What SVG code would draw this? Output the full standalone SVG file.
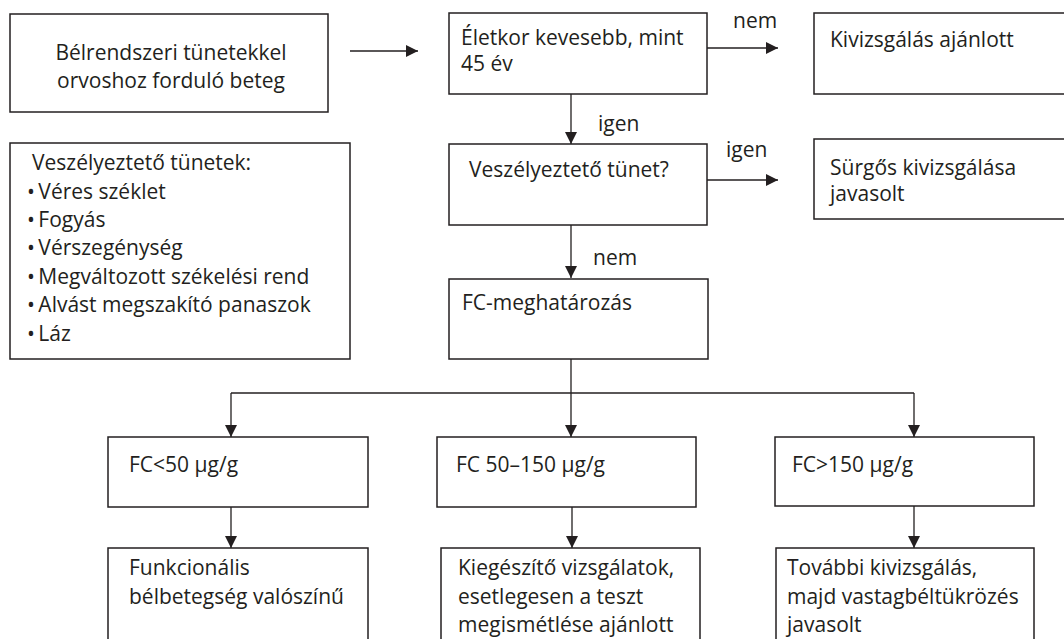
<svg xmlns="http://www.w3.org/2000/svg" width="1064" height="639" viewBox="0 0 1064 639">
<style>
.box{fill:#fff;stroke:#231f20;stroke-width:1.5}
.t{font-family:"Open Sans","Noto Sans",sans-serif;font-size:21px;fill:#231f20}
.c{text-anchor:middle}
.ln{fill:none;stroke:#231f20;stroke-width:1.3}
</style>
<defs>
<marker id="ah" markerUnits="userSpaceOnUse" markerWidth="13" markerHeight="12" refX="12" refY="6" orient="auto">
<path d="M0,0 L12,6 L0,12 z" fill="#231f20"/>
</marker>
</defs>
<rect width="1064" height="639" fill="#fff"/>
<g id="connectors">
<line class="ln" x1="350" y1="51" x2="418" y2="51" marker-end="url(#ah)"/>
<line class="ln" x1="707" y1="48" x2="778" y2="48" marker-end="url(#ah)"/>
<line class="ln" x1="707" y1="180" x2="778" y2="180" marker-end="url(#ah)"/>
<line class="ln" x1="571" y1="94" x2="571" y2="144" marker-end="url(#ah)"/>
<line class="ln" x1="571" y1="225" x2="571" y2="278" marker-end="url(#ah)"/>
<line class="ln" x1="571" y1="359" x2="571" y2="437" marker-end="url(#ah)"/>
<line class="ln" x1="231" y1="393" x2="914" y2="393"/>
<line class="ln" x1="231" y1="393" x2="231" y2="437" marker-end="url(#ah)"/>
<line class="ln" x1="914" y1="393" x2="914" y2="437" marker-end="url(#ah)"/>
<line class="ln" x1="231" y1="507" x2="231" y2="548" marker-end="url(#ah)"/>
<line class="ln" x1="572" y1="507" x2="572" y2="548" marker-end="url(#ah)"/>
<line class="ln" x1="914" y1="506" x2="914" y2="548" marker-end="url(#ah)"/>
<text class="t" x="733" y="28">nem</text>
<text class="t" x="598" y="131">igen</text>
<text class="t" x="726" y="157">igen</text>
<text class="t" x="593" y="265">nem</text>
</g>
<g id="start">
<rect class="box" x="10" y="14" width="318" height="98"/>
<text class="t c" x="171" y="60">Bélrendszeri tünetekkel</text>
<text class="t c" x="171" y="88">orvoshoz forduló beteg</text>
</g>
<g id="symptoms">
<rect class="box" x="10" y="143" width="340" height="216"/>
<text class="t" x="32" y="170">Veszélyeztető tünetek:</text>
<text class="t" x="27" y="199">•<tspan dx="-2"> Véres széklet</tspan></text>
<text class="t" x="27" y="227">•<tspan dx="-2"> Fogyás</tspan></text>
<text class="t" x="27" y="255">•<tspan dx="-2"> Vérszegénység</tspan></text>
<text class="t" x="27" y="284">•<tspan dx="-2"> Megváltozott székelési rend</tspan></text>
<text class="t" x="27" y="312">•<tspan dx="-2"> Alvást megszakító panaszok</tspan></text>
<text class="t" x="27" y="341">•<tspan dx="-2"> Láz</tspan></text>
</g>
<g id="age">
<rect class="box" x="449" y="13" width="258" height="81"/>
<text class="t" x="461" y="45">Életkor kevesebb, mint</text>
<text class="t" x="461" y="71">45 év</text>
</g>
<g id="recommended">
<rect class="box" x="814" y="13" width="260" height="81"/>
<text class="t" x="830" y="47">Kivizsgálás ajánlott</text>
</g>
<g id="danger">
<rect class="box" x="449" y="144" width="258" height="81"/>
<text class="t" x="469" y="177">Veszélyeztető tünet?</text>
</g>
<g id="urgent">
<rect class="box" x="814" y="139" width="260" height="80"/>
<text class="t" x="830" y="175">Sürgős kivizsgálása</text>
<text class="t" x="830" y="201">javasolt</text>
</g>
<g id="fc">
<rect class="box" x="449" y="279" width="259" height="80"/>
<text class="t" x="462" y="310">FC-meghatározás</text>
</g>
<g id="fc-low">
<rect class="box" x="108" y="437" width="260" height="70"/>
<text class="t" x="129" y="472">FC&lt;50 μg/g</text>
</g>
<g id="fc-mid">
<rect class="box" x="437" y="437" width="259" height="70"/>
<text class="t" x="456" y="472">FC 50–150 μg/g</text>
</g>
<g id="fc-high">
<rect class="box" x="775" y="437" width="259" height="69"/>
<text class="t" x="792" y="472">FC&gt;150 μg/g</text>
</g>
<g id="functional">
<rect class="box" x="108" y="548" width="260" height="100"/>
<text class="t" x="129" y="575">Funkcionális</text>
<text class="t" x="129" y="604">bélbetegség valószínű</text>
</g>
<g id="additional">
<rect class="box" x="441" y="548" width="259" height="100"/>
<text class="t" x="458" y="575">Kiegészítő vizsgálatok,</text>
<text class="t" x="458" y="604">esetlegesen a teszt</text>
<text class="t" x="458" y="632">megismétlése ajánlott</text>
</g>
<g id="further">
<rect class="box" x="776" y="548" width="258" height="100"/>
<text class="t" x="787" y="575">További kivizsgálás,</text>
<text class="t" x="787" y="604">majd vastagbéltükrözés</text>
<text class="t" x="787" y="632">javasolt</text>
</g>
</svg>
